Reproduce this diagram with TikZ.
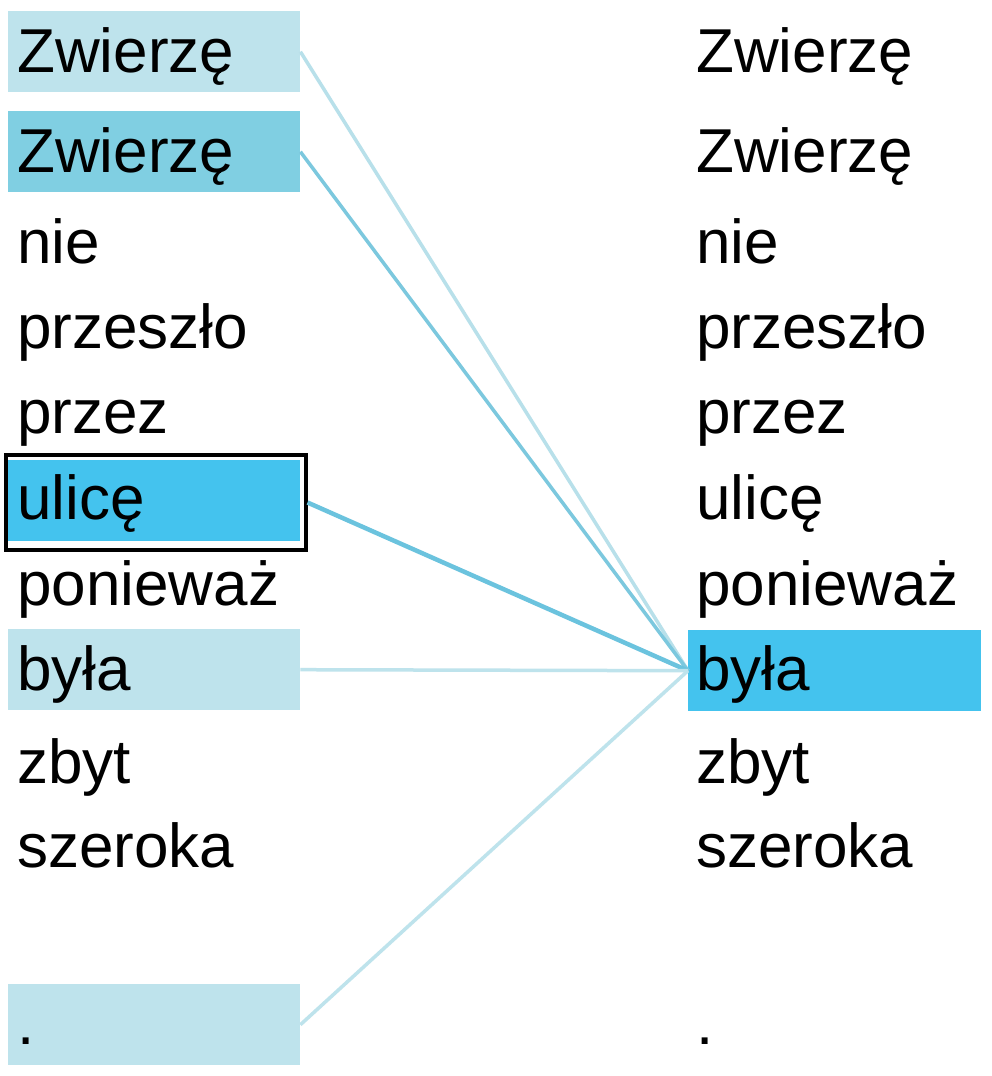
\documentclass[tikz,border=0pt]{standalone}
\usepackage{fontspec}
\setmainfont{Liberation Sans}
\definecolor{lightbl}{HTML}{BEE3EC}
\definecolor{midbl}{HTML}{80CFE2}
\definecolor{strongbl}{HTML}{44C3EE}
\definecolor{lnlight}{HTML}{B8E0EA}
\definecolor{lnmid}{HTML}{7CC8DE}
\definecolor{lnstrong}{HTML}{6BC3DE}
\begin{document}
\begin{tikzpicture}[x=1pt,y=-1pt,
  box/.style={rectangle,draw=none,inner sep=0pt,anchor=north west,minimum width=292pt,minimum height=81pt},
  word/.style={anchor=base west,inner sep=0pt,font=\fontsize{62}{62}\selectfont},
  link/.style={line width=3.5pt}]
\useasboundingbox[fill=white] (0,0) rectangle (992,1076);
% left boxes
\node[box,fill=lightbl] (bz1) at (8,11) {};
\node[box,fill=midbl] (bz2) at (8,111) {};
\node[rectangle,draw=black,line width=4pt,inner sep=0pt,minimum width=300pt,minimum height=95pt,anchor=north west] (bul) at (3.5,453) {};
\node[box,fill=strongbl] (bulf) at (8,460) {};
\node[box,fill=lightbl] (bby) at (8,629) {};
\node[box,fill=lightbl] (bdot) at (8,984) {};
% right box
\node[box,fill=strongbl,minimum width=293pt] (rby) at (688,630) {};
% left words
\node[word] (l1) at (17,72) {Zwierzę};
\node[word] (l2) at (17,172) {Zwierzę};
\node[word] (l3) at (17,263) {nie};
\node[word] (l4) at (17,348) {przeszło};
\node[word] (l5) at (17,433) {przez};
\node[word] (l6) at (17,519) {ulicę};
\node[word] (l7) at (17,605) {ponieważ};
\node[word] (l8) at (17,690) {była};
\node[word] (l9) at (17,783) {zbyt};
\node[word] (l10) at (17,867) {szeroka};
\node[word] (l11) at (17,1044) {.};
% right words
\node[word] (r1) at (696,72) {Zwierzę};
\node[word] (r2) at (696,172) {Zwierzę};
\node[word] (r3) at (696,263) {nie};
\node[word] (r4) at (696,348) {przeszło};
\node[word] (r5) at (696,433) {przez};
\node[word] (r6) at (696,519) {ulicę};
\node[word] (r7) at (696,605) {ponieważ};
\node[word] (r8) at (696,690) {była};
\node[word] (r9) at (696,783) {zbyt};
\node[word] (r10) at (696,867) {szeroka};
\node[word] (r11) at (696,1044) {.};
% links
\draw[link,draw=lnlight] (bz1.east) -- (rby.west);
\draw[link,draw=lnmid] (bz2.east) -- (rby.west);
\draw[link,draw=lnstrong,line width=4.5pt] (bul.east) -- (rby.west);
\draw[link,draw=lightbl] (bby.east) -- (rby.west);
\draw[link,draw=lightbl] (bdot.east) -- (rby.west);
\end{tikzpicture}
\end{document}
